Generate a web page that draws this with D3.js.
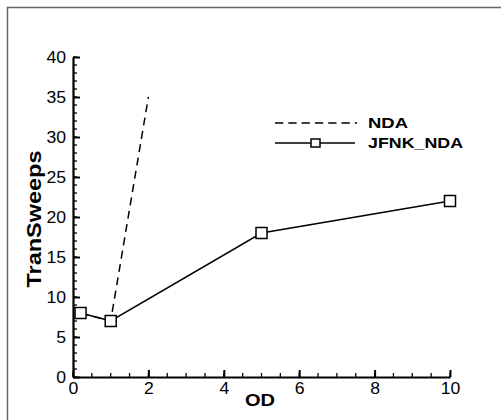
<!DOCTYPE html>
<html><head><meta charset="utf-8">
<script src="https://cdn.jsdelivr.net/npm/d3@7"></script>
<style>body{margin:0;background:#fff}svg{display:block}</style>
</head><body>
<script>
const ndaX = [0.2, 1, 2];
const ndaY = [8, 7, 35];
const jfnkX = [0.2, 1, 5, 10];
const jfnkY = [8, 7, 18, 22];
const xTicks = [0, 2, 4, 6, 8, 10];
const yTicks = [0, 5, 10, 15, 20, 25, 30, 35, 40];
const seriesNames = ["NDA", "JFNK_NDA"];

const W = 501, H = 420;
const svg = d3.select("body").append("svg").attr("width", W).attr("height", H);
const font = "Liberation Sans, Arial, sans-serif";

// frame (top and left visible)
svg.append("line").attr("x1", 7).attr("x2", W).attr("y1", 7.5).attr("y2", 7.5).attr("stroke", "#666").attr("stroke-width", 1.5);
svg.append("line").attr("x1", 7.5).attr("x2", 7.5).attr("y1", 7).attr("y2", H).attr("stroke", "#666").attr("stroke-width", 1.5);

const x = d3.scaleLinear().domain([0, 10]).range([73, 450]);
const y = d3.scaleLinear().domain([0, 40]).range([377, 57]);

const g = svg.append("g");
// minor ticks
const xMinor = d3.range(0, 10.01, 0.5);
const yMinor = d3.range(0, 40.01, 1);
g.selectAll(".xm").data(xMinor).enter().append("line")
  .attr("x1", d => x(d)).attr("x2", d => x(d)).attr("y1", y(0)).attr("y2", y(0) - 4)
  .attr("stroke", "#000").attr("stroke-width", 1.3);
g.selectAll(".ym").data(yMinor).enter().append("line")
  .attr("x1", x(0)).attr("x2", x(0) + 4).attr("y1", d => y(d)).attr("y2", d => y(d))
  .attr("stroke", "#000").attr("stroke-width", 1.3);

const xAxis = d3.axisBottom(x).tickValues(xTicks).tickSizeInner(-7).tickSizeOuter(0).tickPadding(10).tickFormat(d3.format("d"));
const yAxis = d3.axisLeft(y).tickValues(yTicks).tickSizeInner(-7).tickSizeOuter(0).tickPadding(13).tickFormat(d3.format("d"));
const gx = svg.append("g").attr("transform", `translate(0,${y(0)})`).call(xAxis);
const gy = svg.append("g").attr("transform", `translate(${x(0)},0)`).call(yAxis);
[gx, gy].forEach(a => {
  a.select(".domain").attr("stroke", "#000").attr("stroke-width", 2.2);
  a.selectAll(".tick line").attr("stroke", "#000").attr("stroke-width", 2);
  a.selectAll("text").attr("font-family", font).attr("font-size", 16).attr("fill", "#000")
    .attr("textLength", d => String(d).length * 9.8).attr("lengthAdjust", "spacingAndGlyphs");
});
gx.selectAll("text").attr("dy", "0.45em");
gy.selectAll("text").attr("dx", "6").attr("dy", "0.35em");

// series
const line = d3.line().x(d => x(d[0])).y(d => y(d[1]));
const nda = ndaX.map((v, i) => [v, ndaY[i]]);
const jfnk = jfnkX.map((v, i) => [v, jfnkY[i]]);
svg.append("path").datum(nda).attr("d", line).attr("fill", "none").attr("stroke", "#000")
  .attr("stroke-width", 1.5).attr("stroke-dasharray", "8,5.5");
svg.append("path").datum(jfnk).attr("d", line).attr("fill", "none").attr("stroke", "#000").attr("stroke-width", 1.5);
svg.selectAll(".mk").data(jfnk).enter().append("rect")
  .attr("x", d => x(d[0]) - 5.5).attr("y", d => y(d[1]) - 5.5).attr("width", 11).attr("height", 11)
  .attr("fill", "#fff").attr("stroke", "#000").attr("stroke-width", 1.5);

// legend
const lg = svg.append("g");
lg.append("line").attr("x1", 275).attr("x2", 357).attr("y1", 123).attr("y2", 123)
  .attr("stroke", "#000").attr("stroke-width", 1.5).attr("stroke-dasharray", "8.3,5");
lg.append("line").attr("x1", 275).attr("x2", 355).attr("y1", 143).attr("y2", 143)
  .attr("stroke", "#000").attr("stroke-width", 1.5);
lg.append("rect").attr("x", 311).attr("y", 139).attr("width", 9).attr("height", 8)
  .attr("fill", "#fff").attr("stroke", "#000").attr("stroke-width", 1.5);
const legLen = [40, 95];
lg.selectAll("text").data(seriesNames).enter().append("text")
  .attr("x", 368).attr("y", (d, i) => 128 + i * 20).text(d => d)
  .attr("font-family", font).attr("font-weight", "bold").attr("font-size", 15.5)
  .attr("textLength", (d, i) => legLen[i]).attr("lengthAdjust", "spacingAndGlyphs");

// axis titles
svg.append("text").attr("x", 260).attr("y", 406).attr("text-anchor", "middle")
  .attr("font-family", font).attr("font-weight", "bold").attr("font-size", 17)
  .attr("textLength", 30).attr("lengthAdjust", "spacingAndGlyphs").text("OD");
svg.append("text").attr("transform", "translate(41,219) rotate(-90)").attr("text-anchor", "middle")
  .attr("font-family", font).attr("font-weight", "bold").attr("font-size", 21)
  .attr("textLength", 137).attr("lengthAdjust", "spacingAndGlyphs").text("TranSweeps");
</script>
</body></html>
